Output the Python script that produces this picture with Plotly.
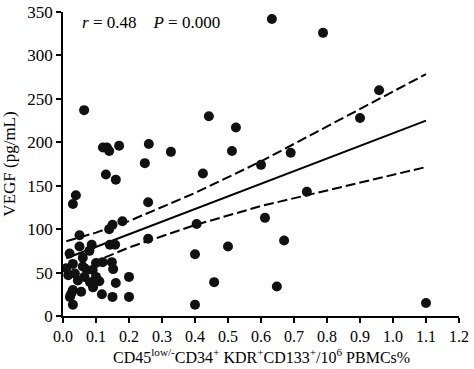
import plotly.graph_objects as go

# scatter data (x: CD45low/- CD34+ KDR+ CD133+ / 10^6 PBMCs %, y: VEGF pg/mL)
pts_x = [0.633, 0.788, 0.958, 0.900, 0.442, 0.524, 0.512, 0.690, 0.424, 0.600,
         0.739, 0.405, 0.612, 0.400, 0.500, 0.670, 0.458, 0.648, 0.400, 1.100,
         0.064, 0.121, 0.133, 0.140, 0.170, 0.260, 0.327, 0.248, 0.130, 0.160,
         0.039, 0.030, 0.258, 0.180, 0.150, 0.140, 0.258, 0.200, 0.160, 0.200,
         0.150, 0.118,
         0.050, 0.020, 0.087, 0.060, 0.016, 0.036, 0.072, 0.082, 0.091, 0.100,
         0.120, 0.142, 0.158, 0.148, 0.152, 0.030, 0.021, 0.030, 0.050, 0.060,
         0.090, 0.045, 0.055, 0.025, 0.110, 0.080, 0.100, 0.030, 0.065, 0.010]
pts_y = [342, 326, 260, 228, 230, 217, 190, 188, 164, 174,
         143, 106, 113, 71, 80, 87, 39, 34, 13, 15,
         237, 194, 194, 190, 196, 198, 189, 176, 163, 157,
         139, 129, 131, 109, 105, 100, 89, 45, 38, 22,
         22, 25,
         93, 72, 82, 67, 47, 49, 53, 39, 33, 61,
         62, 82, 82, 62, 54, 30, 22, 13, 80, 57,
         53, 41, 28, 26, 40, 75, 45, 60, 45, 55]

# regression line and 95% band
fit_x = [0.01, 0.1, 0.2, 0.4, 0.6, 0.8, 1.1]
fit_y = [66.5, 79.6, 94.1, 123.2, 152.3, 181.4, 225.0]
upper_y = [86.0, 96.0, 109.3, 141.7, 178.0, 218.0, 278.5]
lower_y = [47.0, 63.2, 78.9, 104.7, 126.6, 144.8, 171.5]

x_ticks = [0.0, 0.1, 0.2, 0.3, 0.4, 0.5, 0.6, 0.7, 0.8, 0.9, 1.0, 1.1, 1.2]
y_ticks = [0, 50, 100, 150, 200, 250, 300, 350]

FONT = "Liberation Serif"

fig = go.Figure()
fig.add_trace(go.Scatter(x=fit_x, y=upper_y, mode="lines",
                         line=dict(color="black", width=2, dash="10px,4px"),
                         hoverinfo="skip", showlegend=False))
fig.add_trace(go.Scatter(x=fit_x, y=lower_y, mode="lines",
                         line=dict(color="black", width=2, dash="10px,4px"),
                         hoverinfo="skip", showlegend=False))
fig.add_trace(go.Scatter(x=fit_x, y=fit_y, mode="lines",
                         line=dict(color="black", width=2),
                         hoverinfo="skip", showlegend=False))
fig.add_trace(go.Scatter(x=pts_x, y=pts_y, mode="markers",
                         marker=dict(color="#111111", size=10, line=dict(width=0)),
                         showlegend=False))

fig.add_annotation(xref="paper", yref="paper", x=0.043, y=0.967,
                   xanchor="left", yanchor="middle", showarrow=False,
                   text="<i>r</i> = 0.48    <i>P</i> = 0.000",
                   font=dict(family=FONT, size=17, color="black"))

# x-axis title as an annotation so it sits fully inside the page
fig.add_annotation(xref="paper", yref="paper", x=0.5, y=-0.13,
                   xanchor="center", yanchor="middle", showarrow=False,
                   text="CD45<sup>low/-</sup>CD34<sup>+</sup> KDR<sup>+</sup>CD133<sup>+</sup>/10<sup>6</sup> PBMCs%",
                   font=dict(family=FONT, size=16, color="black"))

fig.update_layout(
    width=474, height=369,
    margin=dict(l=63, r=15, t=12, b=53),
    paper_bgcolor="white", plot_bgcolor="white",
    font=dict(family=FONT, size=16, color="black"),
    xaxis=dict(range=[0, 1.2], tickvals=x_ticks,
               ticktext=[f"{v:.1f}" for v in x_ticks],
               showgrid=False, zeroline=False, showline=True,
               linecolor="black", linewidth=1.5, ticks="outside",
               ticklen=5, tickwidth=1.5, tickcolor="black",
               tickfont=dict(family=FONT, size=16), automargin=False),
    yaxis=dict(range=[0, 350], tickvals=y_ticks,
               showgrid=False, zeroline=False, showline=True,
               linecolor="black", linewidth=1.5, ticks="outside",
               ticklen=5, tickwidth=1.5, tickcolor="black",
               tickfont=dict(family=FONT, size=17), automargin=False,
               title=dict(text="VEGF (pg/mL)", font=dict(family=FONT, size=17),
                          standoff=8)),
)

fig.write_html("out.html", config={"displayModeBar": False})

# remove the browser's default page margin so the 474x369 figure fits the window
with open("out.html", "r", encoding="utf-8") as f:
    html = f.read()
html = html.replace("<body>", '<body style="margin:0;padding:0;overflow:hidden">', 1)
with open("out.html", "w", encoding="utf-8") as f:
    f.write(html)
